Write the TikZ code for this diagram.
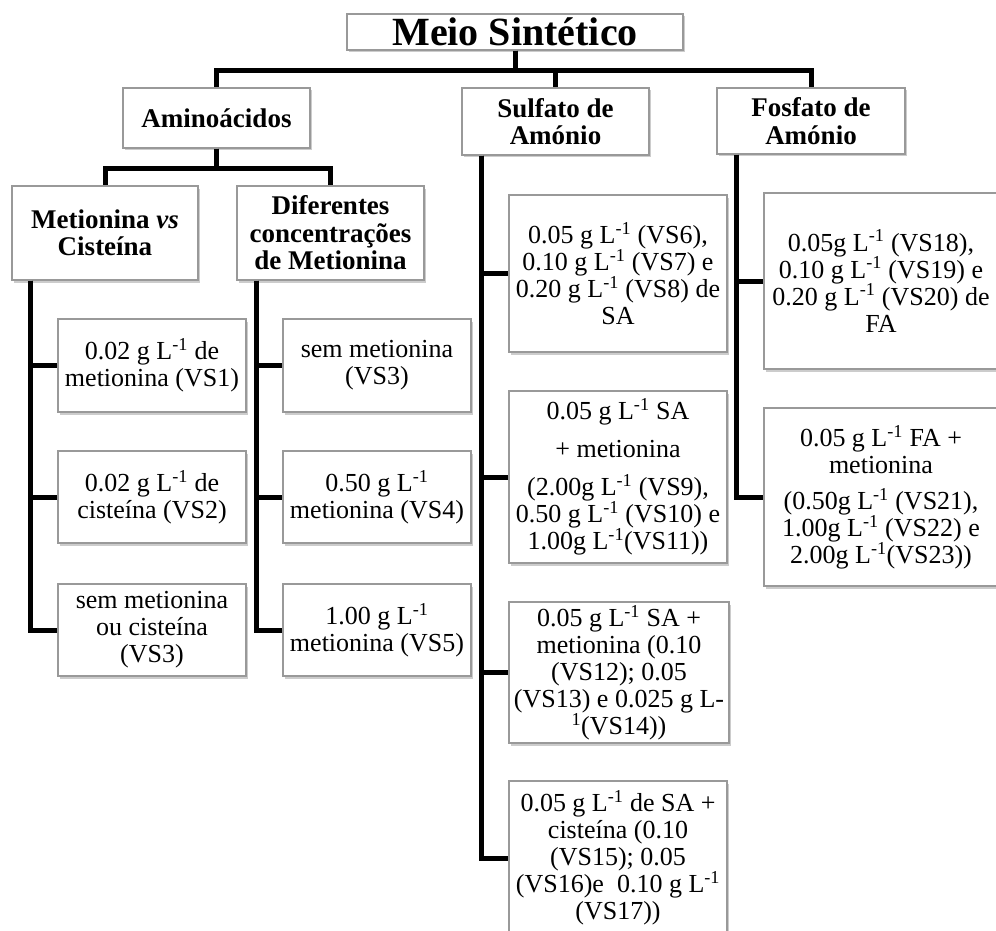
\documentclass[tikz,border=0pt]{standalone}
\usepackage{fontspec}
\setmainfont{Liberation Serif}
\usetikzlibrary{shadows}
\newcommand{\gL}{g L\textsuperscript{-1}}
\begin{document}
\begin{tikzpicture}[x=1pt,y=-1pt,
	caixa/.style={rectangle, draw=black!40, line width=1.2pt, fill=white, align=center, inner sep=1pt,
		drop shadow={shadow xshift=1.5pt, shadow yshift=-2.5pt, opacity=.4},
		font=\fontsize{26}{27}\selectfont},
	titulo/.style={caixa, font=\fontsize{40}{44}\selectfont\bfseries},
	grupo/.style={caixa, font=\fontsize{27}{27.5}\selectfont\bfseries},
	ligacao/.style={line width=5pt, black}]
				\useasboundingbox (0,0) rectangle (996,931);
				\path
				(515,32) node[titulo, minimum width=336, minimum height=36](meio){Meio Sintético}
				(216.5,118) node[grupo, minimum width=187, minimum height=60](amino){Aminoácidos}
				(555.5,121.5) node[grupo, minimum width=187, minimum height=67](sulfato){Sulfato de\\Amónio}
				(811,121) node[grupo, minimum width=188, minimum height=66](fosfato){Fosfato de\\Amónio}
				(105,233) node[grupo, minimum width=186, minimum height=94](metcis){Metionina \textit{vs}\\Cisteína}
				(330.5,233) node[grupo, minimum width=187, minimum height=94](difconc){Diferentes\\concentrações\\de Metionina}
				(152,365.5) node[caixa, minimum width=188, minimum height=93](vsa){0.02 \gL{} de\\metionina (VS1)}
				(152,497) node[caixa, minimum width=188, minimum height=92](vsb){0.02 \gL{} de\\cisteína (VS2)}
				(152,630) node[caixa, minimum width=188, minimum height=92](vsc){sem metionina\\ou cisteína\\(VS3)}
				(377,365.5) node[caixa, minimum width=188, minimum height=93](dca){sem metionina\\(VS3)}
				(377,497) node[caixa, minimum width=188, minimum height=92](dcb){0.50 \gL\\metionina (VS4)}
				(377,630) node[caixa, minimum width=188, minimum height=92](dcc){1.00 \gL\\metionina (VS5)}
				(618,273.5) node[caixa, minimum width=218, minimum height=157](saa){0.05 \gL{} (VS6),\\0.10 \gL{} (VS7) e\\0.20 \gL{} (VS8) de\\SA}
				(618,477) node[caixa, minimum width=218, minimum height=172](sab){0.05 \gL{} SA\\[11pt]+ metionina\\[11pt](2.00g L\textsuperscript{-1} (VS9),\\0.50 \gL{} (VS10) e\\1.00g L\textsuperscript{-1}(VS11))}
				(619,672.5) node[caixa, minimum width=220, minimum height=141](sac){0.05 \gL{} SA +\\metionina (0.10\\(VS12); 0.05\\(VS13) e 0.025 g L-\\\textsuperscript{1}(VS14))}
				(618,858) node[caixa, minimum width=218, minimum height=154](sad){0.05 \gL{} de SA +\\cisteína (0.10\\(VS15); 0.05\\(VS16)e\ \ 0.10 \gL\\(VS17))}
				(881,281) node[caixa, minimum width=234, minimum height=176](faa){0.05g L\textsuperscript{-1} (VS18),\\0.10 \gL{} (VS19) e\\0.20 \gL{} (VS20) de\\FA}
				(881,497) node[caixa, minimum width=234, minimum height=178](fab){0.05 \gL{} FA +\\metionina\\[9pt](0.50g L\textsuperscript{-1} (VS21),\\1.00g L\textsuperscript{-1} (VS22) e\\2.00g L\textsuperscript{-1}(VS23))}
				;
				\draw[ligacao] (meio.south) -- ++(0,20) -| (amino.north);
				\draw[ligacao] (meio.south) -- ++(0,20) -| (sulfato.north);
				\draw[ligacao] (meio.south) -- ++(0,20) -| (fosfato.north);
				\draw[ligacao] (amino.south) -- ++(0,20) -| (metcis.north);
				\draw[ligacao] (amino.south) -- ++(0,20) -| (difconc.north);
				\draw[ligacao] ([xshift=19pt]metcis.south west) |- (vsa.west);
				\draw[ligacao] ([xshift=19pt]metcis.south west) |- (vsb.west);
				\draw[ligacao] ([xshift=19pt]metcis.south west) |- (vsc.west);
				\draw[ligacao] ([xshift=20pt]difconc.south west) |- (dca.west);
				\draw[ligacao] ([xshift=20pt]difconc.south west) |- (dcb.west);
				\draw[ligacao] ([xshift=20pt]difconc.south west) |- (dcc.west);
				\draw[ligacao] ([xshift=20pt]sulfato.south west) |- (saa.west);
				\draw[ligacao] ([xshift=20pt]sulfato.south west) |- (sab.west);
				\draw[ligacao] ([xshift=20pt]sulfato.south west) |- (sac.west);
				\draw[ligacao] ([xshift=20pt]sulfato.south west) |- (sad.west);
				\draw[ligacao] ([xshift=20pt]fosfato.south west) |- (faa.west);
				\draw[ligacao] ([xshift=20pt]fosfato.south west) |- (fab.west);
			\end{tikzpicture}
\end{document}
